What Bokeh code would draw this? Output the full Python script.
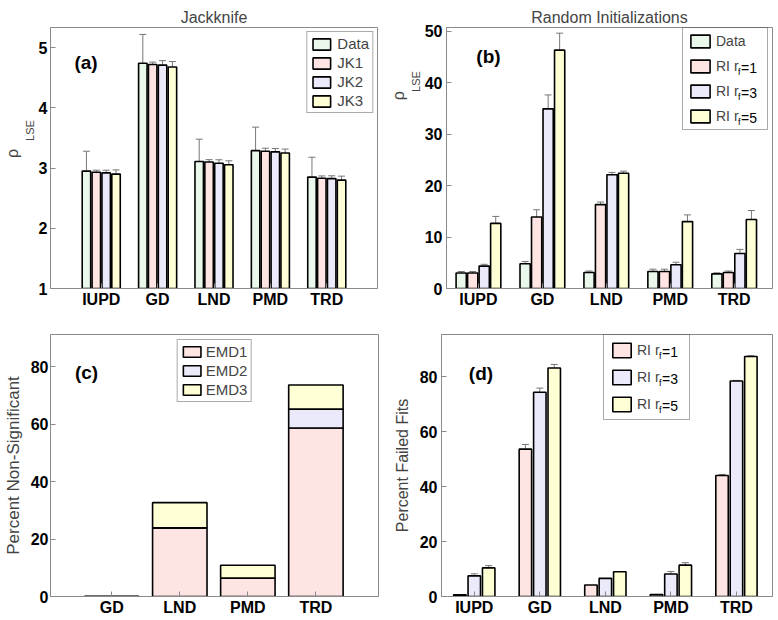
from bokeh.plotting import figure
from bokeh.models import (ColumnDataSource, Range1d, FixedTicker, LinearAxis,
                          Legend, LegendItem, Label, Whisker, TeeHead)
from bokeh.layouts import row, column
from bokeh.embed import file_html
from bokeh.resources import INLINE

# ---------------- data ----------------
categories = ["IUPD", "GD", "LND", "PMD", "TRD"]

jk_labels = ["Data", "JK1", "JK2", "JK3"]
jk_data = [2.95, 4.74, 3.11, 3.29, 2.85]
jk_data_err = [0.33, 0.48, 0.37, 0.39, 0.33]
jk1 = [2.93, 4.72, 3.10, 3.28, 2.83]
jk1_err = [0.035, 0.04, 0.04, 0.05, 0.04]
jk2 = [2.92, 4.71, 3.08, 3.27, 2.825]
jk2_err = [0.045, 0.075, 0.058, 0.055, 0.047]
jk3 = [2.90, 4.68, 3.055, 3.25, 2.80]
jk3_err = [0.07, 0.09, 0.066, 0.066, 0.066]

ri_rf = [1, 3, 5]
ri_data = [3.0, 4.8, 3.1, 3.3, 2.85]
ri_data_err = [0.3, 0.45, 0.3, 0.45, 0.2]
ri1 = [3.0, 13.9, 16.3, 3.3, 3.1]
ri1_err = [0.3, 1.4, 0.5, 0.45, 0.3]
ri3 = [4.35, 34.9, 22.1, 4.6, 6.8]
ri3_err = [0.35, 2.7, 0.45, 0.5, 0.8]
ri5 = [12.65, 46.3, 22.4, 13.0, 13.4]
ri5_err = [1.35, 3.3, 0.4, 1.3, 1.75]

emd_categories = ["GD", "LND", "PMD", "TRD"]
emd_labels = ["EMD1", "EMD2", "EMD3"]
emd1 = [0.0, 23.9, 6.4, 58.7]
emd2 = [0.0, 0.0, 0.0, 6.6]
emd3 = [0.0, 8.8, 4.5, 8.4]

fail1 = [0.6, 53.6, 4.2, 0.7, 44.0]
fail1_err = [0.0, 1.7, 0.0, 0.0, 0.4]
fail3 = [7.5, 74.3, 6.6, 8.2, 78.4]
fail3_err = [0.75, 1.5, 0.0, 0.9, 0.2]
fail5 = [10.4, 83.1, 9.0, 11.4, 87.3]
fail5_err = [0.85, 1.3, 0.0, 0.9, 0.3]

# ---------------- style ----------------
FONT = "Liberation Sans"
FILL = ["#e9f8eb", "#ffe4e4", "#eaeafa", "#ffffd6"]
AX = "#8a8a8a"
ERR = "#777777"
TICK_FS = "16px"
NBSP = "\u00a0"


def style_axis(ax, standoff):
    ax.major_label_text_font = FONT
    ax.major_label_text_font_style = "bold"
    ax.major_label_text_font_size = TICK_FS
    ax.major_label_text_color = "black"
    ax.major_tick_in = 5
    ax.major_tick_out = 0
    ax.major_tick_line_color = AX
    ax.minor_tick_line_color = None
    ax.axis_line_color = AX
    ax.major_label_standoff = standoff


def make_fig(width, height, xr, yr, xticks, xlabels, yticks, borders, ystand):
    left, right, top, bottom = borders
    p = figure(width=width, height=height, x_range=Range1d(*xr), y_range=Range1d(*yr),
               output_backend="svg", toolbar_location=None, tools="",
               min_border_left=left, min_border_right=right,
               min_border_top=top, min_border_bottom=bottom)
    p.grid.visible = False
    p.outline_line_color = AX
    p.outline_line_width = 1
    p.xaxis.ticker = FixedTicker(ticks=xticks)
    p.xaxis.major_label_overrides = {t: l for t, l in zip(xticks, xlabels)}
    p.yaxis.ticker = FixedTicker(ticks=yticks)
    style_axis(p.xaxis[0], 2)
    style_axis(p.yaxis[0], ystand)
    return p


def rho_label(p, shift_rho, shift_sub):
    """y label rho_LSE: 'LSE' on the tick axis, 'rho' on an outer tick-less axis.
    Leading no-break spaces move each part up along the axis."""
    n_sub = int(round(2 * shift_sub / (0.278 * 11)))
    n_rho = int(round(2 * shift_rho / (0.278 * 16)))
    ax = p.yaxis[0]
    ax.axis_label = NBSP * n_sub + "LSE"
    ax.axis_label_standoff = 0
    ax.axis_label_text_font = FONT
    ax.axis_label_text_font_size = "11px"
    ax.axis_label_text_font_style = "normal"
    outer = LinearAxis(ticker=FixedTicker(ticks=[]), axis_line_color=None,
                       major_tick_line_color=None, minor_tick_line_color=None,
                       major_tick_in=0, major_tick_out=0, major_label_standoff=0,
                       axis_label=NBSP * n_rho + "ρ", axis_label_standoff=0,
                       axis_label_text_font=FONT, axis_label_text_font_size="16px",
                       axis_label_text_font_style="normal")
    p.add_layout(outer, "left")


def grouped(p, series, errs, colors, offsets, width):
    rs = []
    for vals, err, col, off in zip(series, errs, colors, offsets):
        xs = [i + 1 + off for i in range(len(vals))]
        src = ColumnDataSource(dict(x=xs, top=vals))
        r = p.vbar(x="x", top="top", bottom=0, width=width, source=src,
                   fill_color=col, line_color="black", line_width=1.6)
        keep = [i for i, e in enumerate(err) if e > 0]
        esrc = ColumnDataSource(dict(
            x=[xs[i] for i in keep],
            upper=[vals[i] + err[i] for i in keep],
            lower=[vals[i] - err[i] for i in keep]))
        w = Whisker(base="x", upper="upper", lower="lower", source=esrc,
                    line_color=ERR, line_width=1,
                    upper_head=TeeHead(size=7, line_color=ERR, line_width=1),
                    lower_head=TeeHead(size=7, line_color=ERR, line_width=1))
        p.add_layout(w)
        rs.append(r)
    return rs


def txt(p, x, y, text, size, bold=False, align="center"):
    p.add_layout(Label(x=x, y=y, x_units="screen", y_units="screen", text=text,
                       text_font=FONT, text_font_size=size,
                       text_font_style="bold" if bold else "normal",
                       text_align=align, text_baseline="middle",
                       text_color="black", level="overlay"))


def legend_common(leg, fs, transparent=False):
    leg.label_text_font = FONT
    leg.label_text_font_size = fs
    leg.border_line_color = "#555555"
    leg.border_line_width = 1
    leg.background_fill_color = "white"
    leg.background_fill_alpha = 0.0 if transparent else 1.0


def set_title(p, text, offset):
    p.title.text = text
    p.title.align = "center"
    p.title.offset = offset
    p.title.standoff = 3
    p.title.text_font = FONT
    p.title.text_font_size = "16px"
    p.title.text_font_style = "normal"


# geometry (page has no margin)
HT, HB = 310, 308
FH_T = HT - 27 - 21
FH_B = HB - 24 - 21
xt5 = [1, 2, 3, 4, 5]

# ---------------- (a) Jackknife ----------------
pa = make_fig(386, HT, (0.1, 5.9), (1, 5.335), xt5, categories, [1, 2, 3, 4, 5],
              (44, 9, 27, 21), 3)
set_title(pa, "Jackknife", -18.5)
rho_label(pa, 5, 27.5)
ra = grouped(pa, [jk_data, jk1, jk2, jk3], [jk_data_err, jk1_err, jk2_err, jk3_err],
             FILL, [-0.2625, -0.0875, 0.0875, 0.2625], 0.15)
lega = Legend(items=[LegendItem(label=l, renderers=[r]) for l, r in zip(jk_labels, ra)],
              location="top_right", margin=4, padding=3, spacing=2,
              glyph_width=22, glyph_height=14, label_height=15, label_standoff=5)
legend_common(lega, "15px")
pa.add_layout(lega)
txt(pa, 35.5, FH_T - 35.5, "(a)", "19px", bold=True)

# ---------------- (b) Random initializations ----------------
pb = make_fig(390, HT, (0.5, 5.6), (0, 50.7), xt5, categories, [0, 10, 20, 30, 40, 50],
              (55, 4, 27, 21), 4)
set_title(pb, "Random Initializations", 8)
rho_label(pb, 62, 76)
rb = grouped(pb, [ri_data, ri1, ri3, ri5], [ri_data_err, ri1_err, ri3_err, ri5_err],
             FILL, [-0.27, -0.09, 0.09, 0.27], 0.16)
PAD_B, GW_B, GH_B, SP_B, ST_B, LW_B = 5, 24, 16, 9, 4, 46
HLB = 2 * PAD_B + 4 * GH_B + 3 * SP_B
lxb, lyb = 236, FH_T - 3 - HLB
legb = Legend(items=[LegendItem(label="Data", renderers=[rb[0]])] +
              [LegendItem(label="RI r", renderers=[r]) for r in rb[1:]],
              location=(lxb, lyb), margin=0, padding=PAD_B, spacing=SP_B,
              glyph_width=GW_B, glyph_height=GH_B, label_height=GH_B,
              label_width=LW_B, label_standoff=ST_B)
legend_common(legb, "14px", transparent=True)
pb.add_layout(legb)
tx0 = lxb + PAD_B + GW_B + ST_B + 22.6
for i, rf in enumerate(ri_rf, start=1):
    cy = lyb + HLB - PAD_B - i * (GH_B + SP_B) - GH_B / 2
    txt(pb, tx0, cy - 4, "f", "9px", align="left")
    txt(pb, tx0 + 3, cy, "=%d" % rf, "14px", align="left")
txt(pb, 42, FH_T - 30, "(b)", "19px", bold=True)

# ---------------- (c) Percent non-significant ----------------
pc = make_fig(386, HB, (0.1, 4.92), (0, 91.3), [1, 2, 3, 4], emd_categories,
              [0, 20, 40, 60, 80], (45, 8, 24, 21), 2)
pc.yaxis.axis_label = "Percent Non-Significant"
pc.yaxis.axis_label_text_font = FONT
pc.yaxis.axis_label_text_font_size = "17px"
pc.yaxis.axis_label_text_font_style = "normal"
pc.yaxis.axis_label_standoff = 5
src_c = ColumnDataSource(dict(x=[i + 1 for i in range(len(emd_categories))],
                              EMD1=emd1, EMD2=emd2, EMD3=emd3))
rc = pc.vbar_stack(emd_labels, x="x", width=0.8, source=src_c, fill_color=FILL[1:],
                   line_color="black", line_width=1.6)
legc = Legend(items=[LegendItem(label=l, renderers=[r]) for l, r in zip(emd_labels, rc)],
              location="top_center", margin=5, padding=3, spacing=2,
              glyph_width=22, glyph_height=13, label_height=15, label_standoff=3)
legend_common(legc, "15px")
pc.add_layout(legc)
txt(pc, 36, FH_B - 38.5, "(c)", "19px", bold=True)

# ---------------- (d) Percent failed fits ----------------
pd_ = make_fig(390, HB, (0.5, 5.55), (0, 95.3), xt5, categories, [0, 20, 40, 60, 80],
               (55, 4, 24, 21), 4)
pd_.yaxis.axis_label = "Percent Failed Fits"
pd_.yaxis.axis_label_text_font = FONT
pd_.yaxis.axis_label_text_font_size = "16px"
pd_.yaxis.axis_label_text_font_style = "normal"
pd_.yaxis.axis_label_standoff = 6
rd = grouped(pd_, [fail1, fail3, fail5], [fail1_err, fail3_err, fail5_err],
             FILL[1:], [-0.22, 0.0, 0.22], 0.19)
PAD_D, GW_D, GH_D, SP_D, ST_D, LW_D = 6, 23, 18, 9, 4, 46
HLD = 2 * PAD_D + 3 * GH_D + 2 * SP_D
lxd, lyd = 162, FH_B - 3 - HLD
legd = Legend(items=[LegendItem(label="RI r", renderers=[r]) for r in rd],
              location=(lxd, lyd), margin=0, padding=PAD_D, spacing=SP_D,
              glyph_width=GW_D, glyph_height=GH_D, label_height=GH_D,
              label_width=LW_D, label_standoff=ST_D)
legend_common(legd, "14px", transparent=True)
pd_.add_layout(legd)
tx0d = lxd + PAD_D + GW_D + ST_D + 22.6
for i, rf in enumerate(ri_rf):
    cy = lyd + HLD - PAD_D - i * (GH_D + SP_D) - GH_D / 2
    txt(pd_, tx0d, cy - 4, "f", "9px", align="left")
    txt(pd_, tx0d + 3, cy, "=%d" % rf, "14px", align="left")
txt(pd_, 39.5, FH_B - 40, "(d)", "19px", bold=True)

layout = column(row(pa, pb), row(pc, pd_))
open("out.html", "w").write(file_html(layout, INLINE))
